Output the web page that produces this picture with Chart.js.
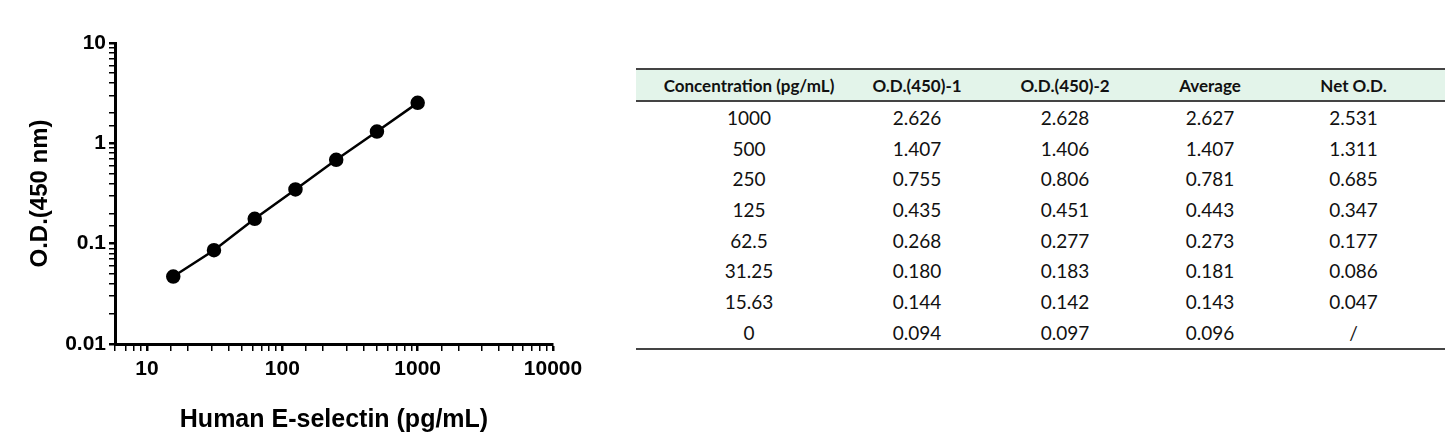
<!DOCTYPE html>
<html><head><meta charset="utf-8">
<script src="https://cdn.jsdelivr.net/npm/chart.js@4"></script>
<style>
body{margin:0;width:1445px;height:439px;background:#fff;position:relative;overflow:hidden}
#wrap{position:absolute;left:0;top:0;width:600px;height:439px}
table{position:absolute;left:636px;top:68px;width:809px;border-collapse:collapse;table-layout:fixed;font-family:Lato,"Open Sans",sans-serif;font-size:19px;color:#111}
th,td{text-align:center;padding:0;height:30.7px;white-space:nowrap}
th{background:#e3f4ea;font-weight:bold;font-size:17px;border-top:2px solid #444;border-bottom:2px solid #444;height:30px}
tr:last-child td{border-bottom:2px solid #444}
</style></head><body>
<div id="wrap"><canvas id="c"></canvas></div>
<table id="t"></table>
<script>
const concentrations=[1000,500,250,125,62.5,31.25,15.63];
const netOD=[2.531,1.311,0.685,0.347,0.177,0.086,0.047];
const headers=["Concentration (pg/mL)","O.D.(450)-1","O.D.(450)-2","Average","Net O.D."];
const concLabels=["1000","500","250","125","62.5","31.25","15.63","0"];
const od1=["2.626","1.407","0.755","0.435","0.268","0.180","0.144","0.094"];
const od2=["2.628","1.406","0.806","0.451","0.277","0.183","0.142","0.097"];
const avg=["2.627","1.407","0.781","0.443","0.273","0.181","0.143","0.096"];
const net=["2.531","1.311","0.685","0.347","0.177","0.086","0.047","/"];

const t=document.getElementById('t');
let h='<tr>'+headers.map(x=>'<th>'+x+'</th>').join('')+'</tr>';
for(let i=0;i<concLabels.length;i++){h+='<tr><td>'+[concLabels[i],od1[i],od2[i],avg[i],net[i]].join('</td><td>')+'</td></tr>';}
t.innerHTML=h;
const cw=[226,110,186,104,183];
[...t.rows[0].cells].forEach((c,i)=>c.style.width=cw[i]+'px');

const font={family:'"Liberation Sans",Arial,sans-serif',weight:'bold',size:21};
const isPow=v=>{const l=Math.log10(v);return Math.abs(l-Math.round(l))<1e-9;};
new Chart(document.getElementById('c'),{
type:'scatter',
data:{datasets:[{data:concentrations.map((x,i)=>({x,y:netOD[i]})),showLine:true,borderColor:'#000',backgroundColor:'#000',borderWidth:2.5,pointRadius:6,pointHoverRadius:6}]},
options:{responsive:true,maintainAspectRatio:false,animation:false,
layout:{padding:{left:22,top:43,right:47,bottom:0}},
plugins:{legend:{display:false},tooltip:{enabled:false}},
scales:{
x:{type:'logarithmic',min:5.8,max:10000,
 border:{color:'#000',width:3},
 grid:{drawOnChartArea:false,color:'#000',lineWidth:c=>isPow(c.tick.value)?2.5:1.5,tickLength:7},
 ticks:{color:'#000',font,padding:6,autoSkip:false,maxRotation:0,callback:v=>isPow(v)?String(v):''},
 title:{display:true,text:'Human E-selectin (pg/mL)',color:'#000',font:{...font,size:25},padding:{top:6}},
 afterFit:s=>{s.height=95;}},
y:{type:'logarithmic',min:0.01,max:10,
 border:{color:'#000',width:3},
 grid:{drawOnChartArea:false,color:'#000',lineWidth:c=>isPow(c.tick.value)?2.5:1.5,tickLength:6},
 ticks:{color:'#000',font,padding:3,autoSkip:false,callback:v=>isPow(v)?String(v):''},
 title:{display:true,text:'O.D.(450 nm)',color:'#000',font:{...font,size:24},padding:{bottom:6}},
 afterFit:s=>{s.width=93;}}
}}});
</script></body></html>
